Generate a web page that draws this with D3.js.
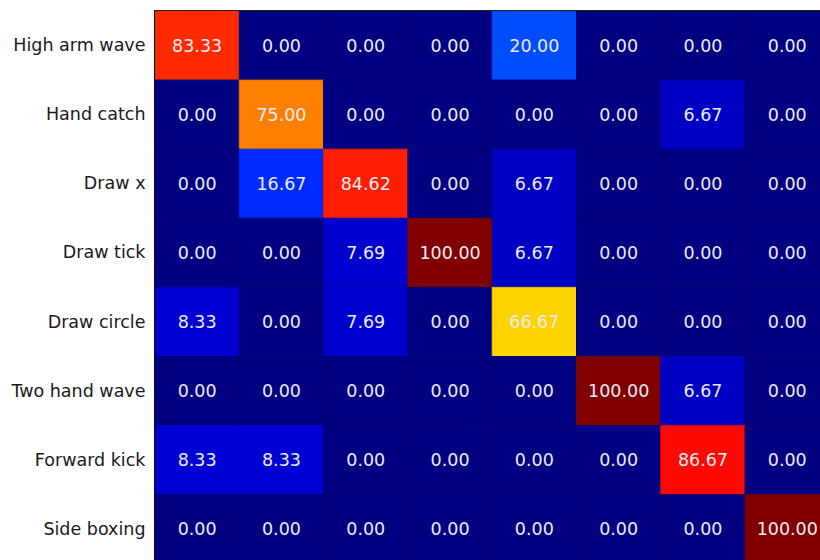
<!DOCTYPE html>
<html>
<head>
<meta charset="utf-8">
<script src="https://cdn.jsdelivr.net/npm/d3@7"></script>
<style>
  html, body { margin: 0; padding: 0; background: #ffffff; overflow: hidden; }
  svg { display: block; }
</style>
</head>
<body>
<svg id="chart" width="820" height="560"></svg>
<script>
// Row labels (true classes) and column indices (predicted classes)
const rowLabels = ["High arm wave", "Hand catch", "Draw x", "Draw tick",
                   "Draw circle", "Two hand wave", "Forward kick", "Side boxing"];
const colIndex = [0, 1, 2, 3, 4, 5, 6, 7];

// Confusion matrix values (%), one array per row
const rowHighArmWave = [83.33, 0.00, 0.00, 0.00, 20.00, 0.00, 0.00, 0.00];
const rowHandCatch   = [0.00, 75.00, 0.00, 0.00, 0.00, 0.00, 6.67, 0.00];
const rowDrawX       = [0.00, 16.67, 84.62, 0.00, 6.67, 0.00, 0.00, 0.00];
const rowDrawTick    = [0.00, 0.00, 7.69, 100.00, 6.67, 0.00, 0.00, 0.00];
const rowDrawCircle  = [8.33, 0.00, 7.69, 0.00, 66.67, 0.00, 0.00, 0.00];
const rowTwoHandWave = [0.00, 0.00, 0.00, 0.00, 0.00, 100.00, 6.67, 0.00];
const rowForwardKick = [8.33, 8.33, 0.00, 0.00, 0.00, 0.00, 86.67, 0.00];
const rowSideBoxing  = [0.00, 0.00, 0.00, 0.00, 0.00, 0.00, 0.00, 100.00];

const matrix = [rowHighArmWave, rowHandCatch, rowDrawX, rowDrawTick,
                rowDrawCircle, rowTwoHandWave, rowForwardKick, rowSideBoxing];

const cells = [];
matrix.forEach((row, i) => row.forEach((v, j) => cells.push({ r: rowLabels[i], c: colIndex[j], v })));

// Layout
const plotLeft = 155, plotTop = 11, cellW = 84.3, cellH = 69.1;
const x = d3.scaleBand().domain(colIndex).range([plotLeft, plotLeft + cellW * colIndex.length]).padding(0);
const y = d3.scaleBand().domain(rowLabels).range([plotTop, plotTop + cellH * rowLabels.length]).padding(0);

// Jet colormap
function jet(t) {
  const clip = v => Math.max(0, Math.min(1, v));
  const r = clip(Math.min(4 * t - 1.5, -4 * t + 4.5));
  const g = clip(Math.min(4 * t - 0.5, -4 * t + 3.5));
  const b = clip(Math.min(4 * t + 0.5, -4 * t + 2.5));
  return d3.rgb(Math.round(r * 255), Math.round(g * 255), Math.round(b * 255));
}
const color = d3.scaleLinear().domain([0, 100]).range([0, 1]);

const svg = d3.select("#chart");
const font = "'DejaVu Sans', Verdana, sans-serif";

svg.append("g").selectAll("rect")
  .data(cells).join("rect")
  .attr("x", d => x(d.c))
  .attr("y", d => y(d.r))
  .attr("width", x.bandwidth())
  .attr("height", y.bandwidth())
  .attr("fill", d => jet(color(d.v)))
  .attr("stroke", d => jet(color(d.v)).darker(0.3))
  .attr("stroke-width", 1);

svg.append("g").selectAll("text")
  .data(cells).join("text")
  .attr("x", d => x(d.c) + x.bandwidth() / 2)
  .attr("y", d => y(d.r) + y.bandwidth() / 2)
  .attr("text-anchor", "middle")
  .attr("dominant-baseline", "central")
  .attr("font-family", font)
  .attr("font-size", "17.5px")
  .attr("fill", "#ececf6")
  .text(d => d.v.toFixed(2));

// Row labels as a left axis
const yAxis = d3.axisLeft(y).tickSize(0).tickPadding(9);
const gy = svg.append("g").attr("transform", `translate(${plotLeft - 0.5},0)`).call(yAxis);
gy.select(".domain").remove();
gy.selectAll("text")
  .attr("font-family", font)
  .attr("font-size", "17.5px")
  .attr("fill", "#1a1a1a");

// Frame
svg.append("line").attr("x1", plotLeft - 0.5).attr("x2", plotLeft - 0.5)
  .attr("y1", plotTop - 1).attr("y2", 560).attr("stroke", "#111").attr("stroke-width", 1);
svg.append("line").attr("x1", plotLeft - 0.5).attr("x2", 820)
  .attr("y1", plotTop - 0.5).attr("y2", plotTop - 0.5).attr("stroke", "#222").attr("stroke-width", 1);
</script>
</body>
</html>
